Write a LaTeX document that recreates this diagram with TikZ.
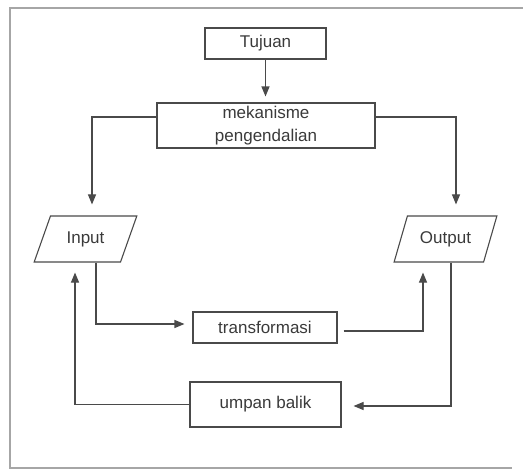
\documentclass[tikz,border=0pt]{standalone}
\usepackage{fontspec}
\setmainfont{Liberation Sans}
\usetikzlibrary{arrows.meta,shapes.geometric,calc}
\definecolor{ln}{HTML}{4A4A4A}
\definecolor{tx}{HTML}{3A3A3A}
\begin{document}
\begin{tikzpicture}[x=1pt,y=-1pt,
  box/.style={draw=ln,line width=1.1pt,inner sep=0pt,text=tx,font=\fontsize{17}{23}\selectfont,align=center},
  para/.style={box,trapezium,trapezium left angle=60,trapezium right angle=120,trapezium stretches=true,minimum width=103pt,minimum height=46pt},
  conn/.style={draw=ln,line width=1.1pt},
  arr/.style={conn,-{Triangle[length=10pt,width=8pt]}},
  frame/.style={draw=gray!70,line width=1.2pt}]
\useasboundingbox (0,0) rectangle (523,471);
\draw[frame] (523,8) -- (10,8) -- (10,468) -- (512,468);
\node[box,minimum width=121pt,minimum height=31pt] (tuj) at (265.5,43.5) {Tujuan};
\node[box,minimum width=218pt,minimum height=45pt] (mek) at (266,125.5) {mekanisme\\pengendalian};
\node[para] (inp) at (85.5,239) {Input};
\node[para] (out) at (445.5,239) {Output};
\node[box,minimum width=144pt,minimum height=31pt] (trans) at (265,327.5) {transformasi};
\node[box,minimum width=151pt,minimum height=45pt] (ub) at (265.5,404.5) {umpan balik};
\draw[arr,shorten >=6pt] (tuj.south) -- (tuj.south |- mek.north);
\draw[arr,shorten >=11pt] ($(mek.west)+(0,-8.5)$) -| ($(inp.north)+(6.5,0)$);
\draw[arr,shorten >=11pt] ($(mek.east)+(0,-8.5)$) -| ($(out.north)+(10.5,0)$);
\draw[arr,shorten >=8pt] ($(inp.south)+(10.5,0)$) |- ($(trans.west)+(0,-3.5)$);
\draw[arr,shorten >=10pt] ($(trans.east)+(6,3.5)$) -| ($(out.south)+(-22.5,0)$);
\draw[arr,shorten >=12pt] ($(out.south)+(5.5,0)$) |- ($(ub.east)+(0,1.5)$);
\draw[arr,shorten >=10pt] (ub.west) -| ($(inp.south)+(-10.5,0)$);
\end{tikzpicture}
\end{document}
